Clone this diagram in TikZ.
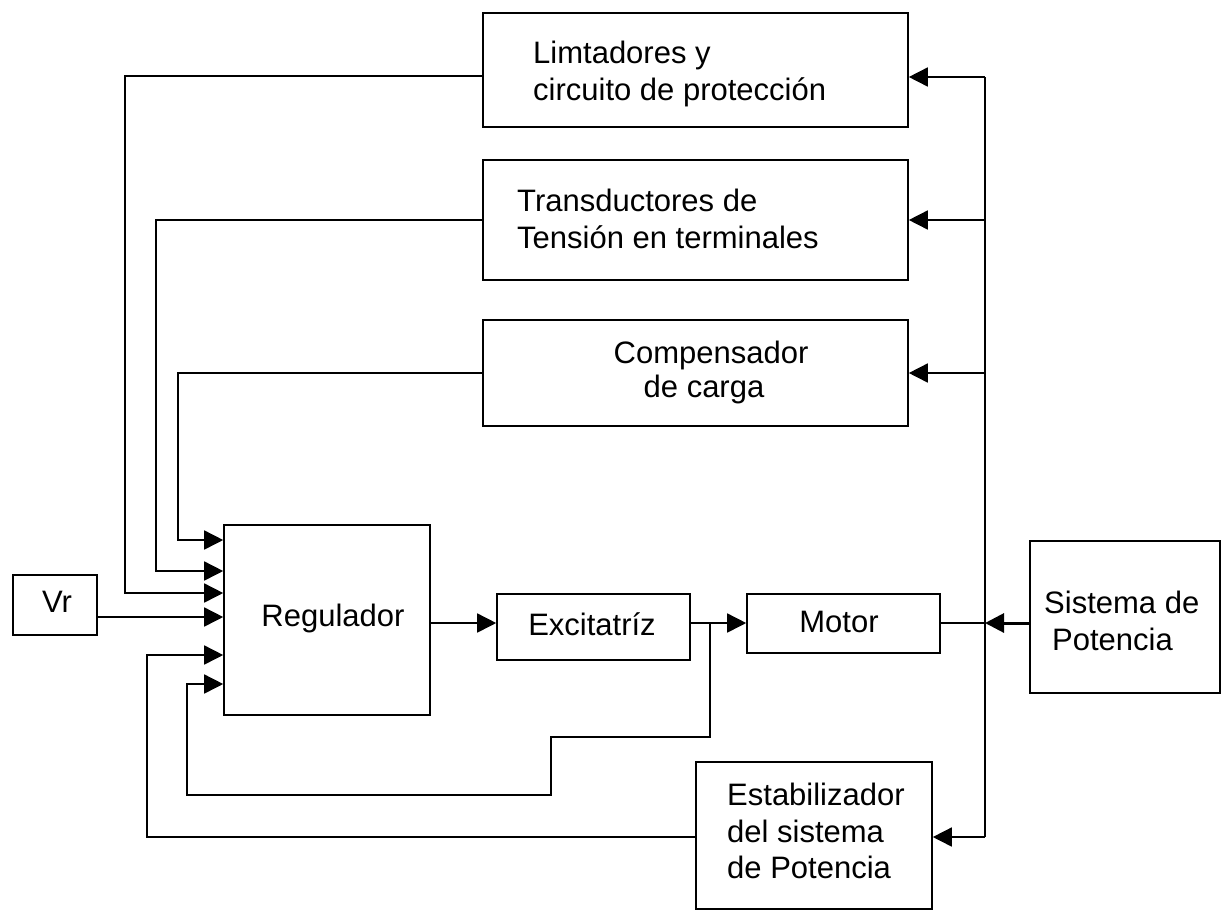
\documentclass[tikz,border=0pt]{standalone}
\usepackage{fontspec}
\setmainfont{Liberation Sans}
\usetikzlibrary{arrows.meta}
\begin{document}
\begin{tikzpicture}[x=1pt,y=-1pt,
 box/.style={draw, line width=1.6pt, inner sep=0pt, rectangle},
 txt/.style={inner sep=0pt, font=\fontsize{31}{37}\selectfont},
 wire/.style={line width=1.6pt},
 arr/.style={wire, -{Triangle[length=19pt,width=19pt]}}]
\useasboundingbox[fill=white] (0,0) rectangle (1222,911);
% boxes
\node[box, minimum width=425pt, minimum height=114pt] (lim) at (695.5,70) {};
\node[box, minimum width=425pt, minimum height=120pt] (tra) at (695.5,220) {};
\node[box, minimum width=425pt, minimum height=106pt] (com) at (695.5,373) {};
\node[box, minimum width=206pt, minimum height=190pt] (reg) at (327,620) {};
\node[box, minimum width=84pt, minimum height=60pt] (vr) at (55,605) {};
\node[box, minimum width=193pt, minimum height=66pt] (exc) at (593.5,627) {};
\node[box, minimum width=193pt, minimum height=59pt] (mot) at (843.5,623.5) {};
\node[box, minimum width=190pt, minimum height=152pt] (sis) at (1125,617) {};
\node[box, minimum width=236pt, minimum height=147pt] (est) at (814,835.5) {};
% texts
\node[txt, anchor=base west] (limA) at (533,63) {Limtadores y};
\node[txt, anchor=base west] (limB) at (533,100) {circuito de protección};
\node[txt, anchor=base west] (traA) at (517,211) {Transductores de};
\node[txt, anchor=base west] (traB) at (517,248) {Tensión en terminales};
\node[txt, anchor=base] (comA) at (711,363) {Compensador};
\node[txt, anchor=base] (comB) at (704,397) {de carga};
\node[txt, anchor=base] (regT) at (333,626) {Regulador};
\node[txt, anchor=base] (vrT) at (57,612) {Vr};
\node[txt, anchor=base] (excT) at (592,635) {Excitatríz};
\node[txt, anchor=base] (motT) at (839,632) {Motor};
\node[txt, anchor=base west] (sisA) at (1044,613) {Sistema de};
\node[txt, anchor=base west] (sisB) at (1052,650) {Potencia};
\node[txt, anchor=base west] (estA) at (727,805) {Estabilizador};
\node[txt, anchor=base west] (estB) at (727,842) {del sistema};
\node[txt, anchor=base west] (estC) at (727,878) {de Potencia};
% bus coordinates
\coordinate (b1) at (985,77);
\coordinate (b2) at (985,220);
\coordinate (b3) at (985,373);
\coordinate (bm) at (985,623);
\coordinate (b4) at (985,837);
\coordinate (j) at (710,623);
% feedback lines to regulator
\draw[arr] (lim.west |- 0,76) -| (125,593) -- (reg.west |- 0,593);
\draw[arr] (tra.west |- 0,220) -| (156,571) -- (reg.west |- 0,571);
\draw[arr] (com.west |- 0,373) -| (178,540) -- (reg.west |- 0,540);
\draw[arr] (vr.east |- 0,617) -- (reg.west |- 0,617);
\draw[arr] (est.west |- 0,837) -| (147,655) -- (reg.west |- 0,655);
\draw[arr] (j) -- (710,737) -- (551,737) -- (551,795) -- (187,795) -- (187,684) -- (reg.west |- 0,684);
% forward path
\draw[arr] (reg.east |- 0,623) -- (exc.west |- 0,623);
\draw[arr] (exc.east |- 0,623) -- (mot.west |- 0,623);
\draw[wire] (mot.east |- 0,623) -- (bm);
\draw[line width=3pt, -{Triangle[length=19pt,width=19pt]}] (sis.west |- 0,623) -- (bm);
% bus
\draw[wire] (b1) -- (b4);
\draw[arr] (b1) -- (lim.east |- b1);
\draw[arr] (b2) -- (tra.east |- b2);
\draw[arr] (b3) -- (com.east |- b3);
\draw[arr] (b4) -- (est.east |- b4);
\end{tikzpicture}
\end{document}
